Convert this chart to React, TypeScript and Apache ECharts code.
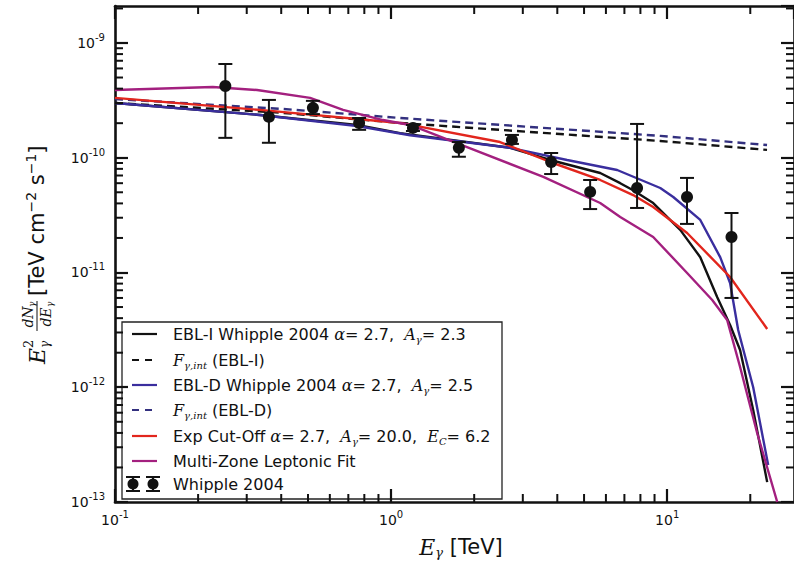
import React, { useEffect, useRef } from 'react';
import * as echarts from 'echarts';

// ---- Data (E in TeV, E^2 dN/dE in TeV cm^-2 s^-1) ----
const whippleE = [0.251, 0.361, 0.521, 0.766, 1.2, 1.76, 2.74, 3.8, 5.26, 7.78, 11.8, 17.1];
const whippleF = [4.22e-10, 2.27e-10, 2.72e-10, 2.01e-10, 1.82e-10, 1.22e-10, 1.43e-10, 9.18e-11, 5.04e-11, 5.45e-11, 4.55e-11, 2.04e-11];
const whippleLo = [1.49e-10, 1.35e-10, 2.4e-10, 1.75e-10, 1.71e-10, 1.02e-10, 1.32e-10, 7.21e-11, 3.57e-11, 3.65e-11, 2.65e-11, 6.0e-12];
const whippleHi = [6.56e-10, 3.19e-10, 3.13e-10, 2.22e-10, 1.93e-10, 1.37e-10, 1.58e-10, 1.1e-10, 6.4e-11, 1.97e-10, 6.67e-11, 3.3e-11];

const eblIE = [0.1, 0.335, 0.753, 1.078, 2.7, 3.77, 5.72, 6.76, 7.53, 8.9, 11.15, 13.18, 15.17, 16.9, 18.37, 20.49, 23.03];
const eblIF = [3.0e-10, 2.36e-10, 1.93e-10, 1.64e-10, 1.22e-10, 9.56e-11, 7.36e-11, 6.0e-11, 5.2e-11, 4.03e-11, 2.35e-11, 1.36e-11, 6.12e-12, 3.49e-12, 2.11e-12, 6.33e-13, 1.49e-13];

const fIntIE = [0.1, 0.406, 1.078, 9.44, 23.0];
const fIntIF = [3.0e-10, 2.46e-10, 2.01e-10, 1.4e-10, 1.17e-10];

const eblDE = [0.1, 0.335, 0.753, 1.172, 2.7, 4.34, 6.59, 9.44, 10.52, 13.18, 15.56, 16.9, 18.08, 20.49, 23.22];
const eblDF = [3.0e-10, 2.36e-10, 1.89e-10, 1.57e-10, 1.22e-10, 9.56e-11, 7.82e-11, 5.45e-11, 4.55e-11, 2.87e-11, 1.36e-11, 8.1e-12, 3.15e-12, 1.0e-12, 2.1e-13];

const fIntDE = [0.1, 0.406, 1.078, 9.44, 23.0];
const fIntDF = [3.25e-10, 2.66e-10, 2.22e-10, 1.55e-10, 1.29e-10];

const cutE = [0.1, 0.335, 1.078, 2.48, 3.77, 5.72, 7.53, 8.9, 11.81, 16.9, 23.03];
const cutF = [3.32e-10, 2.61e-10, 2.01e-10, 1.37e-10, 9.18e-11, 6.4e-11, 4.73e-11, 3.72e-11, 2.21e-11, 9.14e-12, 3.22e-12];

const lepE = [0.1, 0.226, 0.327, 0.509, 0.67, 0.935, 1.172, 1.884, 3.56, 5.72, 6.76, 8.9, 11.81, 14.56, 16.49, 18.37, 21.18, 25.04];
const lepF = [3.89e-10, 4.14e-10, 3.89e-10, 3.32e-10, 2.61e-10, 2.13e-10, 1.93e-10, 1.24e-10, 6.8e-11, 4.03e-11, 3.05e-11, 2.04e-11, 9.9e-12, 5.76e-12, 3.86e-12, 1.5e-12, 3.99e-13, 1.0e-13];

// axis ranges and minor tick positions
const X_MIN = 0.1;
const X_MAX = 28.8;
const Y_MIN = 1e-13;
const Y_MAX = 2.1e-9;
const minorMult = [2, 3, 4, 5, 6, 7, 8, 9];
const xDecades = [0.1, 1, 10];
const yDecades = [1e-13, 1e-12, 1e-11, 1e-10, 1e-9];

const legendLabels = [
  'EBL-I Whipple 2004 {m|α}= 2.7,  {m|A}{sub|γ}= 2.3',
  '{m|F}{sub|γ,int} (EBL-I)',
  'EBL-D Whipple 2004 {m|α}= 2.7,  {m|A}{sub|γ}= 2.5',
  '{m|F}{sub|γ,int} (EBL-D)',
  'Exp Cut-Off {m|α}= 2.7,  {m|A}{sub|γ}= 20.0,  {m|E}{sub|C}= 6.2',
  'Multi-Zone Leptonic Fit',
  'Whipple 2004',
];

const C_BLACK = '#121212';
const C_BLUE = '#3a2e9e';
const C_BLUE_DASH = '#33307f';
const C_RED = '#e2261d';
const C_MAG = '#a3207f';

const SANS = "'DejaVu Sans', 'Noto Sans', sans-serif";
const SERIF = "'DejaVu Serif', 'Liberation Serif', serif";

const zip = (a: number[], b: number[]) => a.map((v, i) => [v, b[i]]);

const expLabel = (v: number) => {
  const e = Math.log10(v);
  const r = Math.round(e);
  if (Math.abs(e - r) > 1e-6) return '';
  return `{b|10}{s|${r}}`;
};

const tickRich = {
  b: { fontSize: 14, fontFamily: SANS, color: '#111' },
  s: { fontSize: 10, fontFamily: SANS, color: '#111', padding: [0, 0, 11, 0] },
};

const MINOR_LEN = 8;

const buildOption = () => {
  const minorX: number[][] = [];
  xDecades.forEach((d) => minorMult.forEach((m) => {
    const v = d * m;
    if (v < X_MAX) minorX.push([v, Y_MIN]);
  }));
  const minorY: number[][] = [];
  yDecades.forEach((d) => minorMult.forEach((m) => {
    const v = d * m;
    if (v < Y_MAX) minorY.push([X_MIN, v]);
  }));

  const lineSeries = (name: string, data: number[][], color: string, dashed: boolean, z: number) => ({
    type: 'line',
    name,
    data,
    showSymbol: false,
    symbol: 'none',
    clip: true,
    z,
    lineStyle: { color, width: 2.4, type: dashed ? [8, 5] : 'solid' },
    silent: true,
  });

  const legendRowY = [334, 360, 385, 410, 436, 461, 484];
  const legendColors = [C_BLACK, C_BLACK, C_BLUE, C_BLUE_DASH, C_RED, C_MAG];
  const legendDashed = [false, true, false, true, false, false];

  const legendChildren: any[] = [
    {
      type: 'rect',
      shape: { x: 122, y: 322, width: 380, height: 177 },
      style: { fill: '#ffffff', stroke: '#222', lineWidth: 1.3 },
    },
  ];
  legendColors.forEach((c, i) => {
    legendChildren.push({
      type: 'line',
      shape: { x1: 132, y1: legendRowY[i], x2: 157, y2: legendRowY[i] },
      style: { stroke: c, lineWidth: 2.2, lineDash: legendDashed[i] ? [7, 6] : null },
    });
  });
  [133, 153].forEach((cx) => {
    const y = legendRowY[6];
    legendChildren.push(
      { type: 'line', shape: { x1: cx, y1: y - 7, x2: cx, y2: y + 7 }, style: { stroke: C_BLACK, lineWidth: 2 } },
      { type: 'line', shape: { x1: cx - 7, y1: y - 7, x2: cx + 7, y2: y - 7 }, style: { stroke: C_BLACK, lineWidth: 2 } },
      { type: 'line', shape: { x1: cx - 7, y1: y + 7, x2: cx + 7, y2: y + 7 }, style: { stroke: C_BLACK, lineWidth: 2 } },
      { type: 'circle', shape: { cx, cy: y, r: 5.5 }, style: { fill: C_BLACK } },
    );
  });
  legendLabels.forEach((t, i) => {
    legendChildren.push({
      type: 'text',
      x: 173,
      y: legendRowY[i],
      style: {
        text: t,
        fill: '#111',
        font: `16px ${SANS}`,
        align: 'left',
        verticalAlign: 'middle',
        textAlign: 'left',
        textVerticalAlign: 'middle',
        rich: {
          m: { fontFamily: SERIF, fontStyle: 'italic', fontSize: 16, fill: '#111' },
          sub: { fontFamily: SERIF, fontStyle: 'italic', fontSize: 10, fill: '#111', padding: [10, 0, 0, 0] },
        },
      },
    });
  });

  const yLabel = {
    type: 'group',
    x: 37,
    y: 365,
    rotation: Math.PI / 2,
    children: [
      { type: 'text', x: 1, y: 0, style: { text: 'E', font: `italic 22px ${SERIF}`, fill: '#111', align: 'left', verticalAlign: 'middle', textAlign: 'left', textVerticalAlign: 'middle' } },
      { type: 'text', x: 17, y: -9, style: { text: '2', font: `13px ${SERIF}`, fill: '#111', align: 'left', verticalAlign: 'middle', textAlign: 'left', textVerticalAlign: 'middle' } },
      { type: 'text', x: 17, y: 8, style: { text: 'γ', font: `italic 12px ${SERIF}`, fill: '#111', align: 'left', verticalAlign: 'middle', textAlign: 'left', textVerticalAlign: 'middle' } },
      { type: 'text', x: 48, y: -9, style: { text: 'dN', font: `italic 14px ${SERIF}`, fill: '#111', align: 'center', verticalAlign: 'middle', textAlign: 'center', textVerticalAlign: 'middle' } },
      { type: 'text', x: 58, y: -5, style: { text: 'γ', font: `italic 9px ${SERIF}`, fill: '#111', align: 'left', verticalAlign: 'middle', textAlign: 'left', textVerticalAlign: 'middle' } },
      { type: 'line', shape: { x1: 34, y1: 0, x2: 64, y2: 0 }, style: { stroke: '#111', lineWidth: 1 } },
      { type: 'text', x: 48, y: 9, style: { text: 'dE', font: `italic 14px ${SERIF}`, fill: '#111', align: 'center', verticalAlign: 'middle', textAlign: 'center', textVerticalAlign: 'middle' } },
      { type: 'text', x: 58, y: 13, style: { text: 'γ', font: `italic 9px ${SERIF}`, fill: '#111', align: 'left', verticalAlign: 'middle', textAlign: 'left', textVerticalAlign: 'middle' } },
      {
        type: 'text', x: 69, y: 0,
        style: {
          text: '[TeV cm{sup|−2} s{sup|−1}]',
          font: `21px ${SANS}`, fill: '#111', align: 'left', verticalAlign: 'middle', textAlign: 'left', textVerticalAlign: 'middle',
          rich: { sup: { fontFamily: SANS, fontSize: 14, fill: '#111', padding: [0, 0, 12, 0] } },
        },
      },
    ],
  };

  const xLabel = {
    type: 'text',
    x: 461,
    y: 547,
    style: {
      text: '{m|E}{sub|γ} [TeV]',
      font: `21px ${SANS}`,
      fill: '#111',
      align: 'center',
      verticalAlign: 'middle',
      textAlign: 'center',
      textVerticalAlign: 'middle',
      rich: {
        m: { fontFamily: SERIF, fontStyle: 'italic', fontSize: 22, fill: '#111' },
        sub: { fontFamily: SERIF, fontStyle: 'italic', fontSize: 13, fill: '#111', padding: [11, 0, 0, 0] },
      },
    },
  };

  const axisCommon = {
    type: 'log',
    logBase: 10,
    axisLine: { show: true, onZero: false, lineStyle: { color: '#111', width: 2.6 } },
    axisTick: { show: true, inside: true, length: 13, lineStyle: { color: '#111', width: 2.2 } },
    splitLine: { show: false },
    minorTick: { show: false },
  };

  return {
    animation: false,
    backgroundColor: '#ffffff',
    grid: { left: 115, right: 0, top: 6, bottom: 61, containLabel: false },
    xAxis: [
      {
        ...axisCommon, position: 'bottom', min: X_MIN, max: X_MAX,
        axisLabel: { show: true, margin: 7, formatter: expLabel, rich: tickRich, showMaxLabel: false },
      },
      { ...axisCommon, position: 'top', min: X_MIN, max: X_MAX, axisLabel: { show: false } },
    ],
    yAxis: [
      {
        ...axisCommon, position: 'left', min: Y_MIN, max: Y_MAX,
        axisLabel: { show: true, margin: 10, formatter: expLabel, rich: tickRich, showMaxLabel: false },
      },
      { ...axisCommon, position: 'right', min: Y_MIN, max: Y_MAX, axisLabel: { show: false } },
    ],
    graphic: [yLabel, xLabel, { type: 'group', z: 100, children: legendChildren }],
    series: [
      lineSeries('EBL-I Whipple 2004', zip(eblIE, eblIF), C_BLACK, false, 3),
      lineSeries('F_int (EBL-I)', zip(fIntIE, fIntIF), C_BLACK, true, 3),
      lineSeries('EBL-D Whipple 2004', zip(eblDE, eblDF), C_BLUE, false, 4),
      lineSeries('F_int (EBL-D)', zip(fIntDE, fIntDF), C_BLUE_DASH, true, 4),
      lineSeries('Exp Cut-Off', zip(cutE, cutF), C_RED, false, 5),
      lineSeries('Multi-Zone Leptonic Fit', zip(lepE, lepF), C_MAG, false, 6),
      {
        type: 'custom',
        name: 'Whipple 2004',
        z: 7,
        silent: true,
        data: whippleE.map((e, i) => [e, whippleF[i], whippleLo[i], whippleHi[i]]),
        renderItem: (params: any, api: any) => {
          const x = api.value(0);
          const p = api.coord([x, api.value(1)]);
          const lo = api.coord([x, api.value(2)]);
          const hi = api.coord([x, api.value(3)]);
          const w = 7;
          const st = { stroke: C_BLACK, lineWidth: 2 };
          return {
            type: 'group',
            children: [
              { type: 'line', shape: { x1: lo[0], y1: lo[1], x2: hi[0], y2: hi[1] }, style: st },
              { type: 'line', shape: { x1: lo[0] - w, y1: lo[1], x2: lo[0] + w, y2: lo[1] }, style: st },
              { type: 'line', shape: { x1: hi[0] - w, y1: hi[1], x2: hi[0] + w, y2: hi[1] }, style: st },
              { type: 'circle', shape: { cx: p[0], cy: p[1], r: 6 }, style: { fill: C_BLACK } },
            ],
          };
        },
      },
      {
        type: 'custom',
        name: 'x minor ticks',
        z: 8,
        silent: true,
        clip: false,
        data: minorX,
        renderItem: (params: any, api: any) => {
          const v = api.value(0);
          const b = api.coord([v, Y_MIN]);
          const t = api.coord([v, Y_MAX]);
          const st = { stroke: '#111', lineWidth: 2 };
          return {
            type: 'group',
            children: [
              { type: 'line', shape: { x1: b[0], y1: b[1], x2: b[0], y2: b[1] - MINOR_LEN }, style: st },
              { type: 'line', shape: { x1: t[0], y1: t[1], x2: t[0], y2: t[1] + MINOR_LEN }, style: st },
            ],
          };
        },
      },
      {
        type: 'custom',
        name: 'y minor ticks',
        z: 8,
        silent: true,
        clip: false,
        data: minorY,
        renderItem: (params: any, api: any) => {
          const v = api.value(1);
          const l = api.coord([X_MIN, v]);
          const r = api.coord([X_MAX, v]);
          const st = { stroke: '#111', lineWidth: 2 };
          return {
            type: 'group',
            children: [
              { type: 'line', shape: { x1: l[0], y1: l[1], x2: l[0] + MINOR_LEN, y2: l[1] }, style: st },
              { type: 'line', shape: { x1: r[0], y1: r[1], x2: r[0] - MINOR_LEN, y2: r[1] }, style: st },
            ],
          };
        },
      },
    ],
  };
};

const App = () => {
  const ref = useRef<HTMLDivElement>(null);
  useEffect(() => {
    if (!ref.current) return;
    const chart = echarts.init(ref.current, undefined, { renderer: 'svg' });
    chart.setOption(buildOption() as any);
    return () => chart.dispose();
  }, []);
  return (
    <div
      ref={ref}
      style={{ position: 'absolute', left: 0, top: 0, width: 794, height: 563, background: '#fff' }}
    />
  );
};

export default App;
